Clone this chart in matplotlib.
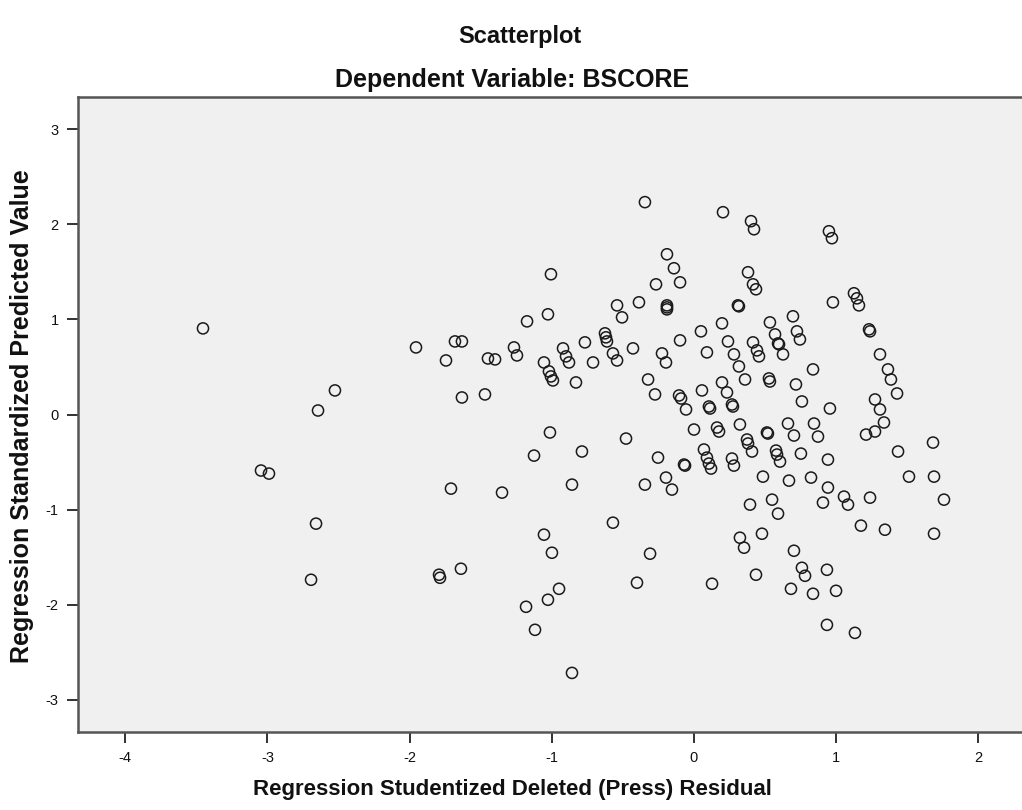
import matplotlib
matplotlib.use("Agg")
import matplotlib.pyplot as plt

plt.rcParams['font.family'] = ['Liberation Sans', 'DejaVu Sans']

# Regression Studentized Deleted (Press) Residual
resid = [
    -3.453, -2.525, -2.644, -3.045, -2.989, -2.658, -2.693, -1.955, -1.744, -1.681,
    -1.632, -1.632, -1.470, -1.449, -1.399, -1.266, -1.245, -1.174, -1.027, -1.006,
    -1.055, -1.020, -1.006, -0.992, -0.921, -0.900, -0.879, -0.830, -0.767, -0.710,
    -0.626, -0.619, -0.612, -0.570, -0.541, -0.541, -0.506, -0.429, -0.387, -0.345,
    -0.267, -0.190, -0.141, -0.098, -0.190, -0.190, -0.225, -0.197, -0.098, 0.049,
    0.091, -0.323, -0.274, -0.105, -0.091, -0.056, 0.056, 0.105, 0.113, 0.267,
    0.274, 0.204, 0.401, 0.422, 0.949, 0.970, 0.380, 0.415, 0.436, 0.309,
    0.316, 0.197, 0.239, 0.281, 0.316, 0.359, 0.197, 0.232, 0.415, 0.443,
    0.457, 0.534, 0.570, 0.591, 0.598, 0.626, 0.696, 0.724, 0.745, 0.527,
    0.534, 0.717, 0.837, 0.759, 0.956, 0.977, 1.125, 1.146, 1.160, 1.231,
    1.238, 1.308, 1.364, 1.385, 1.428, 1.273, 1.308, 1.336, 1.273, 1.210,
    1.435, 1.681, 1.512, 1.688, 1.758, 1.688, 1.343, 1.174, 1.238, 1.055,
    1.083, 0.942, 0.907, 0.942, 0.823, 0.752, 0.872, 0.844, 0.703, 0.661,
    0.668, 0.591, 0.549, 0.485, 0.394, 0.323, 0.352, 0.478, 0.703, 0.759,
    0.781, 0.935, 0.999, 0.837, 0.682, 0.436, 0.127, 0.935, 1.132, 0.577,
    0.584, 0.605, 0.513, 0.520, 0.408, 0.373, 0.380, 0.267, 0.281, 0.323,
    0.162, 0.176, 0.070, 0.091, 0.105, 0.120, 0.000, -0.070, -0.063, -0.253,
    -0.197, -0.155, -0.345, -0.478, -0.788, -1.013, -1.125, -0.858, -1.350, -1.709,
    -0.570, -0.309, -0.401, -1.055, -0.999, -1.639, -1.793, -1.786, -0.949, -1.027,
    -1.181, -1.118, -0.858, -0.190,
]

# Regression Standardized Predicted Value
pred = [
    0.905, 0.253, 0.042, -0.589, -0.621, -1.147, -1.737, 0.705, 0.568, 0.768,
    0.768, 0.179, 0.211, 0.589, 0.579, 0.705, 0.621, 0.979, 1.053, 1.474,
    0.547, 0.453, 0.400, 0.358, 0.695, 0.611, 0.547, 0.337, 0.758, 0.547,
    0.853, 0.811, 0.768, 0.642, 0.568, 1.147, 1.021, 0.695, 1.179, 2.232,
    1.368, 1.684, 1.537, 1.389, 1.147, 1.105, 0.642, 0.547, 0.779, 0.874,
    0.653, 0.368, 0.211, 0.200, 0.168, 0.053, 0.253, 0.084, 0.063, 0.105,
    0.084, 2.126, 2.032, 1.947, 1.926, 1.853, 1.495, 1.368, 1.316, 1.147,
    1.137, 0.958, 0.768, 0.632, 0.505, 0.368, 0.337, 0.232, 0.758, 0.674,
    0.611, 0.968, 0.842, 0.747, 0.737, 0.632, 1.032, 0.874, 0.789, 0.379,
    0.347, 0.316, 0.474, 0.137, 0.063, 1.179, 1.274, 1.221, 1.147, 0.895,
    0.874, 0.632, 0.474, 0.368, 0.221, 0.158, 0.053, -0.084, -0.179, -0.211,
    -0.389, -0.295, -0.653, -0.653, -0.895, -1.253, -1.211, -1.168, -0.874, -0.863,
    -0.947, -0.768, -0.926, -0.474, -0.663, -0.411, -0.232, -0.095, -0.221, -0.095,
    -0.695, -1.042, -0.895, -0.653, -0.947, -1.295, -1.400, -1.253, -1.432, -1.611,
    -1.695, -1.632, -1.853, -1.884, -1.832, -1.684, -1.779, -2.211, -2.295, -0.379,
    -0.421, -0.495, -0.189, -0.200, -0.389, -0.263, -0.305, -0.463, -0.537, -0.105,
    -0.137, -0.179, -0.368, -0.453, -0.516, -0.568, -0.158, -0.526, -0.537, -0.453,
    -0.663, -0.789, -0.737, -0.253, -0.389, -0.189, -0.432, -0.737, -0.821, -0.779,
    -1.137, -1.463, -1.768, -1.263, -1.453, -1.621, -1.684, -1.716, -1.832, -1.947,
    -2.021, -2.263, -2.716, 1.126,
]

x_ticks = [-4, -3, -2, -1, 0, 1, 2]
y_ticks = [-3, -2, -1, 0, 1, 2, 3]

title = "Scatterplot"
subtitle = "Dependent Variable: BSCORE"
x_label = "Regression Studentized Deleted (Press) Residual"
y_label = "Regression Standardized Predicted Value"

W, H = 1022, 810
fig = plt.figure(figsize=(W / 100, H / 100), dpi=100)
fig.patch.set_facecolor("white")

left_px, right_px, top_px, bottom_px = 78, 1030, 97, 732
ax = fig.add_axes([left_px / W, 1 - bottom_px / H,
                   (right_px - left_px) / W, (bottom_px - top_px) / H])
ax.set_facecolor("#F0F0F0")

ax.scatter(resid, pred, s=64, facecolors="none", edgecolors="#1a1a1a",
           linewidths=1.1, zorder=3)

ax.set_xlim(-4.332, 2.363)
ax.set_ylim(-3.337, 3.337)
ax.set_xticks(x_ticks)
ax.set_yticks(y_ticks)
ax.set_xticklabels([str(v) for v in x_ticks])
ax.set_yticklabels([str(v) for v in y_ticks])
ax.tick_params(axis="both", direction="out", length=8, width=1.3,
               color="#222222", labelsize=10.5, labelcolor="#111111", pad=6)

for side in ["left", "bottom", "top"]:
    ax.spines[side].set_color("#555555")
    ax.spines[side].set_linewidth(1.8)
ax.spines["right"].set_visible(False)

cx = 512 / W
fig.text(520 / W, 1 - 37 / H, title, ha="center", va="center",
         fontsize=17, fontweight="bold", color="#111111")
fig.text(cx, 1 - 80 / H, subtitle, ha="center", va="center",
         fontsize=18, fontweight="bold", color="#111111")
fig.text(cx, 1 - 790 / H, x_label, ha="center", va="center",
         fontsize=16, fontweight="bold", color="#111111")
fig.text(22 / W, 1 - 416 / H, y_label, ha="center", va="center", rotation=90,
         fontsize=18, fontweight="bold", color="#111111")

fig.savefig("out.png", dpi=100, facecolor="white")
